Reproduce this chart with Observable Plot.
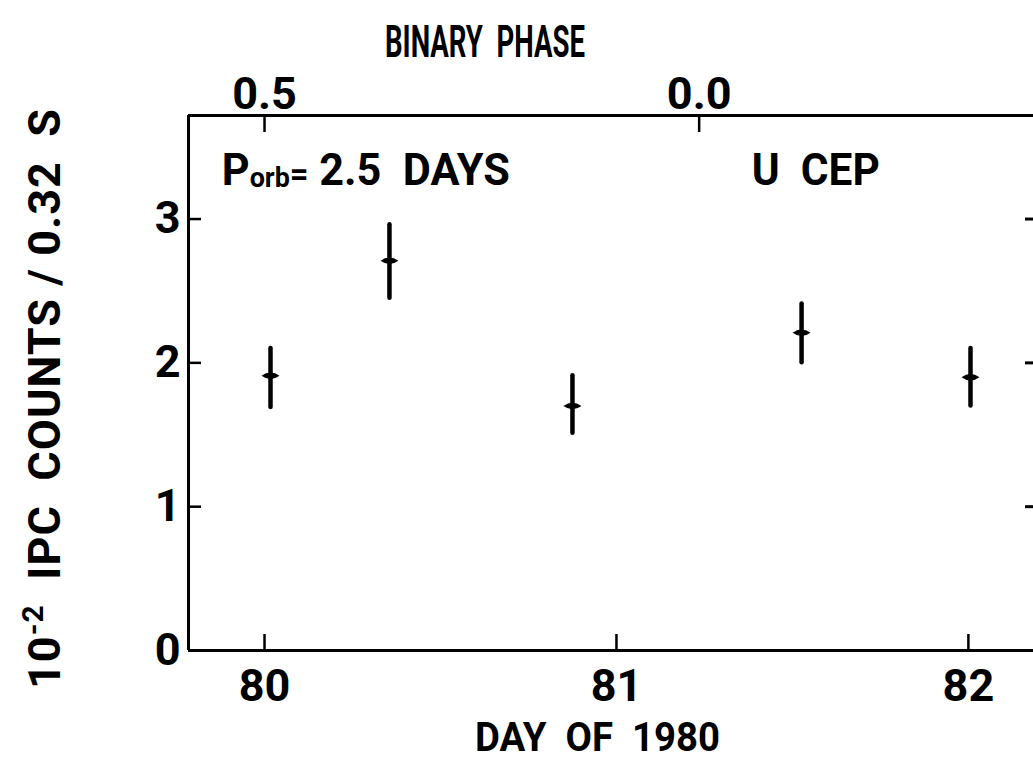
<!DOCTYPE html>
<html><head><meta charset="utf-8">
<script src="https://cdn.jsdelivr.net/npm/d3@7"></script>
<script src="https://cdn.jsdelivr.net/npm/@observablehq/plot@0.6"></script>
<style>
html,body{margin:0;padding:0;background:#fff;}
#chart svg{display:block;max-width:none;}
</style></head><body><div id="chart"></div>
<script>
// Data
const days = [80.017, 80.355, 80.875, 81.526, 82.006];
const counts = [1.91, 2.71, 1.70, 2.21, 1.90];
const errLow = [1.69, 2.45, 1.51, 2.00, 1.70];
const errHigh = [2.10, 2.96, 1.91, 2.41, 2.10];
const dayTicks = [80, 81, 82];
const countTicks = [0, 1, 2, 3];
const rightTicks = [1, 2, 3];
const phaseTickDays = [80.0, 81.235];
const phaseTickLabels = ["0.5", "0.0"];
const xDomain = [79.784, 82.185];
const yDomain = [0, 3.72];
const annotDays = [79.88, 81.386];
const annotCount = 3.233;

const table = days.map((d, i) => ({day: d, count: counts[i], lo: errLow[i], hi: errHigh[i]}));
const font = 'Roboto,"DejaVu Sans Condensed",sans-serif';

const lens = {draw(ctx) {
  ctx.moveTo(-9, 0);
  ctx.quadraticCurveTo(0, -6.5, 9, 0);
  ctx.quadraticCurveTo(0, 6.5, -9, 0);
  ctx.closePath();
}};

const plot = Plot.plot({
  width: 1033, height: 760,
  marginLeft: 188, marginRight: 0, marginTop: 115, marginBottom: 110,
  style: {fontFamily: font, fontSize: "45px", fontWeight: "bold", color: "black", background: "white", overflow: "visible"},
  x: {domain: xDomain},
  y: {domain: yDomain},
  marks: [
    Plot.axisX(dayTicks, {anchor: "bottom", tickSize: -16, tickPadding: 35, strokeWidth: 2.5, label: null, tickFormat: d => String(d)}),
    Plot.axisX(phaseTickDays, {anchor: "top", tickSize: -16, tickPadding: 23, strokeWidth: 2.5, label: null, tickFormat: d => phaseTickLabels[phaseTickDays.indexOf(d)]}),
    Plot.axisY(countTicks, {anchor: "left", tickSize: -13, tickPadding: 21, strokeWidth: 2.5, label: null, tickFormat: d => String(d)}),
    Plot.axisY(rightTicks, {anchor: "right", tickSize: -9, strokeWidth: 3, label: null, tickFormat: null}),
    Plot.ruleY([yDomain[0]], {strokeWidth: 3}),
    Plot.ruleY([yDomain[1]], {strokeWidth: 3}),
    Plot.ruleX([xDomain[0]], {strokeWidth: 3}),
    Plot.ruleX(table, {x: "day", y1: "lo", y2: "hi", strokeWidth: 4.5, strokeLinecap: "round"}),
    Plot.dot(table, {x: "day", y: "count", symbol: lens, fill: "black", stroke: null})
  ]
});

document.getElementById("chart").appendChild(plot);
const svg = d3.select(plot);
const sx = plot.scale("x"), sy = plot.scale("y");

// drop any (empty) label texts of the right-hand tick axis
svg.selectAll('g[aria-label="y-axis tick label"]').filter(function() {
  const b = this.getBBox(); return b.width === 0 || b.x > 900;
}).remove();

// Y axis title (with superscript)
const yt = svg.append("text")
  .attr("transform", "translate(60,399) rotate(-90)")
  .attr("text-anchor", "middle")
  .attr("textLength", 580).attr("lengthAdjust", "spacing")
  .style("font-size", "45px");
yt.append("tspan").text("10");
yt.append("tspan").attr("dy", -17).style("font-size", "30px").text("-2");
yt.append("tspan").attr("dy", 17).style("white-space", "pre").text("  IPC  COUNTS / 0.32  S");

// Bottom title
svg.append("text").attr("x", 475).attr("y", 751).attr("text-anchor", "start")
  .style("white-space", "pre").style("font-size", "40px")
  .attr("textLength", 245).attr("lengthAdjust", "spacingAndGlyphs")
  .text("DAY  OF  1980");

// Top title
svg.append("text").attr("x", 385).attr("y", 57).attr("text-anchor", "start")
  .style("white-space", "pre")
  .attr("textLength", 200).attr("lengthAdjust", "spacingAndGlyphs")
  .text("BINARY  PHASE");

// Annotations
const pt = svg.append("text").attr("x", sx.apply(annotDays[0])).attr("y", sy.apply(annotCount))
  .attr("text-anchor", "start").style("white-space", "pre")
  .attr("textLength", 288).attr("lengthAdjust", "spacingAndGlyphs");
pt.append("tspan").text("P");
pt.append("tspan").attr("dy", 2).style("font-size", "28px").text("orb");
pt.append("tspan").attr("dy", -2).style("font-size", "34px").text("=");
pt.append("tspan").text(" 2.5  DAYS");

svg.append("text").attr("x", sx.apply(annotDays[1])).attr("y", sy.apply(annotCount))
  .attr("text-anchor", "start").style("white-space", "pre")
  .attr("textLength", 128).attr("lengthAdjust", "spacingAndGlyphs")
  .text("U  CEP");
</script></body></html>
